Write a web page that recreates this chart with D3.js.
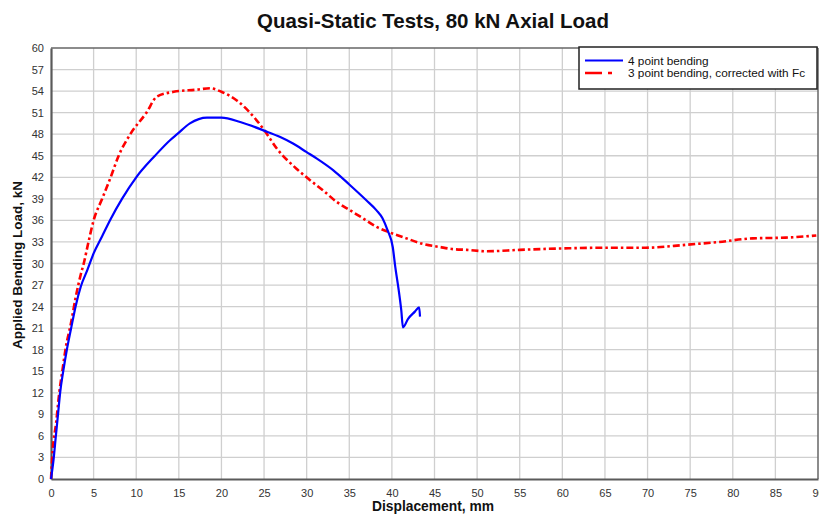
<!DOCTYPE html>
<html>
<head>
<meta charset="utf-8">
<script src="https://cdn.jsdelivr.net/npm/d3@7"></script>
<style>
  html, body { margin: 0; padding: 0; background: #fff; }
  svg { display: block; font-family: "Liberation Sans", Arial, sans-serif; }
</style>
</head>
<body>
<svg id="chart" width="819" height="515"></svg>
<script>
// Test data: displacement (mm) vs applied bending load (kN)
const fourPointX = [0, 0.3, 0.57, 0.84, 1.07, 1.46, 1.86, 2.33, 2.9, 3.5, 4.27, 5.0, 6.0, 6.96, 8.33, 10.0, 12.2, 14.0, 14.8, 16.3, 18.3, 20.0, 22.2, 25.0, 26.9, 28.4, 30.0, 31.2, 33.1, 35.0, 37.0, 38.2, 38.9, 39.5, 40.1, 40.4, 40.8, 41.1, 41.3, 41.9, 42.7, 43.2, 43.3];
const fourPointY = [0, 2.7, 6.0, 9.2, 12.0, 15.2, 18.0, 20.8, 24.1, 26.8, 29.1, 31.4, 33.8, 36.1, 39.0, 42.0, 45.0, 47.2, 48.0, 49.5, 50.3, 50.3, 49.7, 48.5, 47.6, 46.7, 45.5, 44.6, 43.0, 41.0, 38.8, 37.4, 36.3, 34.6, 32.3, 29.5, 26.3, 23.5, 21.1, 22.3, 23.3, 23.9, 22.6];

const threePointX = [0, 0.2, 0.6, 0.97, 1.35, 1.75, 2.33, 2.9, 3.5, 3.84, 4.4, 5.0, 6.0, 7.0, 7.94, 9.3, 11.2, 12.4, 14.4, 17.1, 18.7, 20.0, 21.8, 23.8, 25.0, 26.5, 28.8, 30.4, 31.9, 33.5, 35.1, 36.6, 38.2, 39.8, 41.7, 43.7, 45.6, 47.2, 48.8, 51.1, 55.0, 60.1, 65.1, 69.8, 74.5, 78.4, 82.3, 86.2, 89.8];
const threePointY = [0, 4.0, 7.8, 12.0, 15.2, 18.4, 21.6, 25.3, 28.5, 30.0, 33.0, 36.0, 39.0, 42.0, 45.0, 48.0, 51.0, 53.2, 53.9, 54.2, 54.4, 53.9, 52.7, 50.4, 48.6, 46.0, 43.2, 41.6, 40.2, 38.6, 37.4, 36.3, 35.1, 34.3, 33.5, 32.7, 32.3, 32.0, 31.9, 31.7, 31.9, 32.1, 32.2, 32.2, 32.6, 33.0, 33.5, 33.6, 33.9];

const xTicks = d3.range(0, 91, 5);
const yTicks = d3.range(0, 61, 3);
const seriesNames = ["4 point bending", "3 point bending, corrected with Fc"];

const svg = d3.select("#chart");
const margin = { left: 51, right: 1, top: 48, bottom: 36 };
const W = 819, H = 515;

const x = d3.scaleLinear().domain([0, 90]).range([margin.left, W - margin.right]);
const y = d3.scaleLinear().domain([0, 60]).range([H - margin.bottom, margin.top]);

// Grid
const grid = svg.append("g").attr("stroke", "#cfcfcf").attr("stroke-width", 1.3);
grid.selectAll("line.v").data(xTicks.filter(d => d > 0 && d < 90)).join("line")
  .attr("x1", d => x(d)).attr("x2", d => x(d))
  .attr("y1", y(0)).attr("y2", y(60));
grid.selectAll("line.h").data(yTicks.filter(d => d > 0 && d < 60)).join("line")
  .attr("x1", x(0)).attr("x2", x(90))
  .attr("y1", d => y(d)).attr("y2", d => y(d));

// Frame
svg.append("line").attr("x1", x(0)).attr("x2", x(90)).attr("y1", y(60)).attr("y2", y(60))
  .attr("stroke", "#666").attr("stroke-width", 1.5);
svg.append("line").attr("x1", x(90)).attr("x2", x(90)).attr("y1", y(60)).attr("y2", y(0))
  .attr("stroke", "#666").attr("stroke-width", 1.5);

// Axes
const xAxis = svg.append("g").attr("transform", `translate(0,${y(0)})`)
  .call(d3.axisBottom(x).tickValues(xTicks).tickSize(0).tickPadding(10).tickFormat(d3.format("d")));
const yAxis = svg.append("g").attr("transform", `translate(${x(0)},0)`)
  .call(d3.axisLeft(y).tickValues(yTicks).tickSize(0).tickPadding(7).tickFormat(d3.format("d")));
[xAxis, yAxis].forEach(a => {
  a.select(".domain").attr("stroke", "#5a5a5a").attr("stroke-width", 2.2);
  a.selectAll("text").attr("fill", "#333").style("font-size", "11px")
    .style("font-family", "'Liberation Sans', Arial, sans-serif");
});

// Series lines
const line = d3.line().x(d => x(d[0])).y(d => y(d[1])).curve(d3.curveMonotoneX);
const blueData = fourPointX.map((v, i) => [v, fourPointY[i]]);
const redData = threePointX.map((v, i) => [v, threePointY[i]]);

svg.append("path").datum(redData).attr("d", line)
  .attr("fill", "none").attr("stroke", "#ff0000").attr("stroke-width", 2.6)
  .attr("stroke-dasharray", "7,3,2.5,3");
svg.append("path").datum(blueData).attr("d", line)
  .attr("fill", "none").attr("stroke", "#0000ff").attr("stroke-width", 2.2)
  .attr("stroke-linejoin", "round");

// Title and axis labels
svg.append("text").attr("x", 433).attr("y", 28).attr("text-anchor", "middle")
  .style("font-size", "20.5px").style("font-weight", "bold").attr("fill", "#111")
  .text("Quasi-Static Tests, 80 kN Axial Load");
svg.append("text").attr("x", 433).attr("y", 511).attr("text-anchor", "middle")
  .style("font-size", "13.8px").style("font-weight", "bold").attr("fill", "#111")
  .text("Displacement, mm");
svg.append("text").attr("transform", "translate(22,265) rotate(-90)").attr("text-anchor", "middle")
  .style("font-size", "13.5px").style("font-weight", "bold").attr("fill", "#111")
  .text("Applied Bending Load, kN");

// Legend
const lg = svg.append("g");
lg.append("rect").attr("x", 579).attr("y", 47).attr("width", 238).attr("height", 42)
  .attr("fill", "#fff").attr("stroke", "#222").attr("stroke-width", 1.5);
const legendItems = [
  { name: seriesNames[0], color: "#0000ff", dash: null, w: 2.2 },
  { name: seriesNames[1], color: "#ff0000", dash: "17,6,4,20", w: 2.6 }
];
legendItems.forEach((it, i) => {
  const yy = 60.5 + i * 12.5;
  lg.append("line").attr("x1", 585).attr("x2", 623).attr("y1", yy).attr("y2", yy)
    .attr("stroke", it.color).attr("stroke-width", it.w)
    .attr("stroke-dasharray", it.dash);
  lg.append("text").attr("x", 628).attr("y", yy + 4)
    .style("font-size", "11.8px").attr("fill", "#111").text(it.name);
});
</script>
</body>
</html>
